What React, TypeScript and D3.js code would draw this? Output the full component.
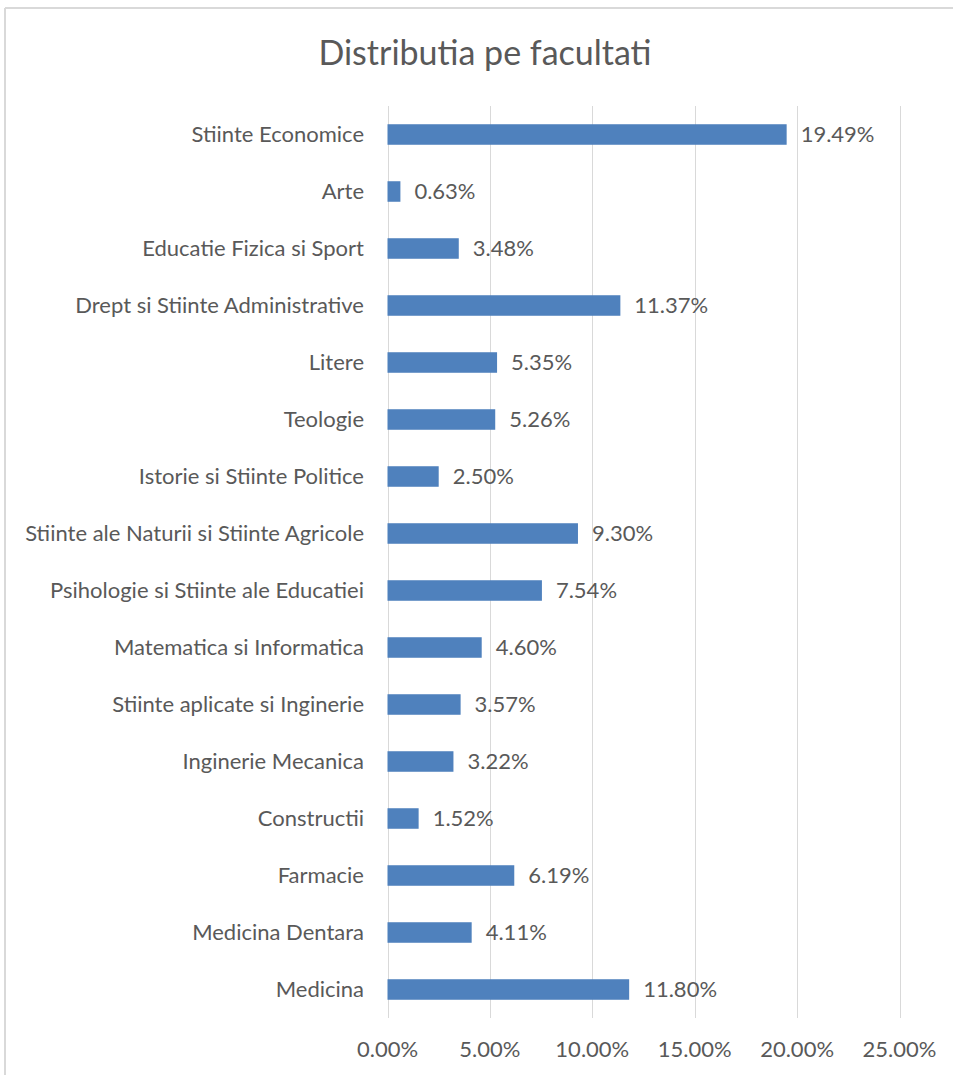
import React from "react";
import * as d3 from "d3";

const categories = [
  "Stiinte Economice",
  "Arte",
  "Educatie Fizica si Sport",
  "Drept si Stiinte Administrative",
  "Litere",
  "Teologie",
  "Istorie si Stiinte Politice",
  "Stiinte ale Naturii si Stiinte Agricole",
  "Psihologie si Stiinte ale Educatiei",
  "Matematica si Informatica",
  "Stiinte aplicate si Inginerie",
  "Inginerie Mecanica",
  "Constructii",
  "Farmacie",
  "Medicina Dentara",
  "Medicina",
];

const values = [
  19.49, 0.63, 3.48, 11.37, 5.35, 5.26, 2.5, 9.3, 7.54, 4.6, 3.57, 3.22, 1.52,
  6.19, 4.11, 11.8,
];

const xTicks = [0, 5, 10, 15, 20, 25];

const title = "Distributia pe facultati";

const W = 953;
const H = 1075;
const FONT = "Lato, 'Open Sans', sans-serif";
const TEXT = "#595959";
const GRID = "#d9d9d9";
const BAR = "#4f81bd";

export default function App() {
  const x = d3.scaleLinear().domain([0, 25]).range([387.5, 899.5]);
  const y = d3
    .scaleBand<string>()
    .domain(categories)
    .range([106, 1018])
    .paddingInner(0.64)
    .paddingOuter(0.32);
  const fmt = (v: number) => d3.format(".2f")(v) + "%";

  return (
    <svg
      width={W}
      height={H}
      style={{ position: "absolute", left: 0, top: 0, background: "#fff" }}
      fontFamily={FONT}
    >
      <rect x={0} y={0} width={W} height={H} fill="#fff" />
      {/* chart border */}
      <line x1={5} x2={W} y1={8} y2={8} stroke={GRID} strokeWidth={2} />
      <line x1={5} x2={5} y1={8} y2={H} stroke={GRID} strokeWidth={2} />

      <text
        x={485}
        y={53}
        textAnchor="middle"
        dy="0.35em"
        fontSize={34}
        fill={TEXT}
      >
        {title}
      </text>

      {/* gridlines */}
      {xTicks.map((t) => (
        <line
          key={"g" + t}
          x1={Math.round(x(t)) + 0.5}
          x2={Math.round(x(t)) + 0.5}
          y1={106}
          y2={1018}
          stroke={GRID}
          strokeWidth={1}
        />
      ))}

      {/* tick labels */}
      {xTicks.map((t) => (
        <text
          key={"t" + t}
          x={x(t)}
          y={1049}
          dy="0.35em"
          textAnchor="middle"
          fontSize={22}
          fill={TEXT}
        >
          {fmt(t)}
        </text>
      ))}

      {/* bars */}
      {categories.map((c, i) => (
        <rect
          key={"b" + c}
          x={x(0)}
          y={y(c)!}
          width={x(values[i]) - x(0)}
          height={y.bandwidth()}
          fill={BAR}
        />
      ))}

      {/* category labels */}
      {categories.map((c) => (
        <text
          key={"c" + c}
          x={364}
          y={y(c)! + y.bandwidth() / 2}
          dy="0.35em"
          textAnchor="end"
          fontSize={22}
          fill={TEXT}
        >
          {c}
        </text>
      ))}

      {/* value labels */}
      {categories.map((c, i) => (
        <text
          key={"v" + c}
          x={x(values[i]) + 14}
          y={y(c)! + y.bandwidth() / 2}
          dy="0.35em"
          textAnchor="start"
          fontSize={22}
          fill={TEXT}
        >
          {fmt(values[i])}
        </text>
      ))}
    </svg>
  );
}
